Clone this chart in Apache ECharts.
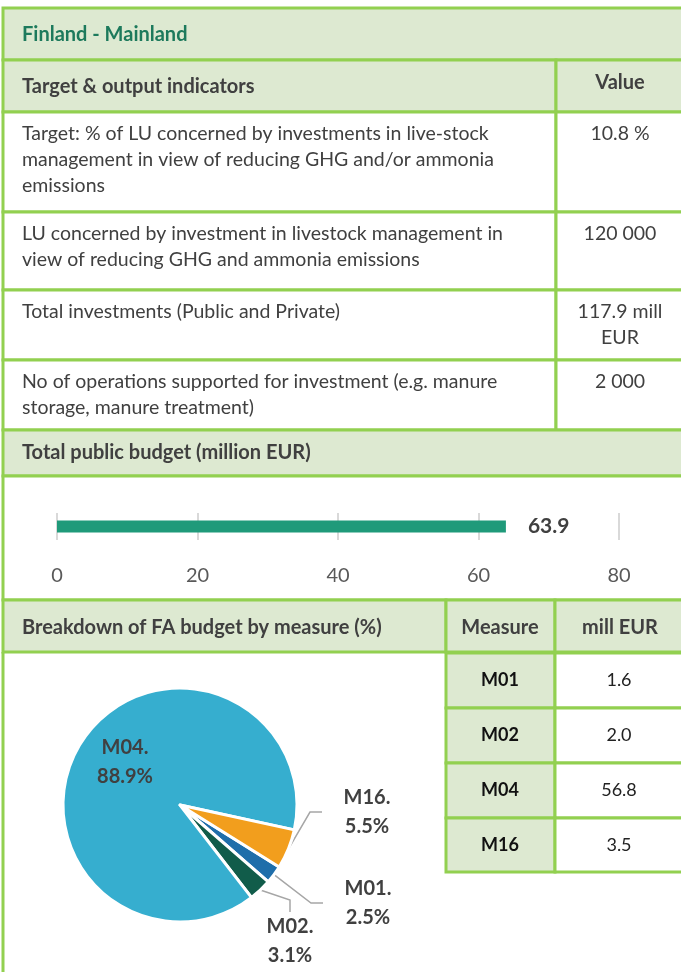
<!DOCTYPE html>
<html>
<head>
<meta charset="utf-8">
<script src="https://cdn.jsdelivr.net/npm/echarts@6/dist/echarts.min.js"></script>
<style>
  html, body { margin: 0; padding: 0; background: #fff; }
  #chart { width: 681px; height: 972px; }
</style>
</head>
<body>
<div id="chart"></div>
<script>
// data
const title = 'Finland - Mainland'
const indicatorNames = [
  'Target: % of LU concerned by investments in live-stock\nmanagement in view of reducing GHG and/or ammonia\nemissions',
  'LU concerned by investment in livestock management in\nview of reducing GHG and ammonia emissions',
  'Total investments (Public and Private)',
  'No of operations supported for investment (e.g. manure\nstorage, manure treatment)',
]
const indicatorValues = ['10.8 %', '120 000', '117.9 mill\nEUR', '2 000']
const budgetCategories = ['Total public budget']
const budgetValues = [63.9]
const budgetTicks = [0, 20, 40, 60, 80]
const measures = ['M01', 'M02', 'M04', 'M16']
const measureBudget = [1.6, 2.0, 56.8, 3.5]

const GREEN_LINE = '#92d050'
const HEAD_BG = '#dde9d1'
const TXT = '#404040'
const FONT = 'Lato, "Open Sans", sans-serif'
const BODY_FONT = '19.5px ' + FONT
const HEAD_FONT = 'bold 20px ' + FONT

const chart = echarts.init(document.getElementById('chart'))

const graphics = []
function cell(x, y, w, h, fill) {
  graphics.push({
    type: 'rect',
    z: 0,
    shape: { x: x, y: y, width: w, height: h },
    style: { fill: fill, stroke: GREEN_LINE, lineWidth: 3 },
  })
}
function text(str, x, y, opt) {
  graphics.push({
    type: 'text',
    z: 10,
    x: x,
    y: y,
    style: Object.assign({
      text: str,
      font: BODY_FONT,
      fill: TXT,
      lineHeight: 26,
      verticalAlign: 'top',
    }, opt || {}),
  })
}

// header rows
cell(3, 8, 700, 52, HEAD_BG)
text(title, 22, 22, { font: HEAD_FONT, fill: '#1d7a5c' })
cell(3, 60, 553, 52, HEAD_BG)
cell(556, 60, 150, 52, HEAD_BG)
text('Target & output indicators', 22, 74, { font: HEAD_FONT })
text('Value', 620, 70, { font: HEAD_FONT, align: 'center' })

// indicator rows
const rowTops = [112, 212, 290, 360, 430]
indicatorNames.forEach(function (name, i) {
  const y0 = rowTops[i]
  const h = rowTops[i + 1] - y0
  cell(3, y0, 553, h, '#fff')
  cell(556, y0, 150, h, '#fff')
  text(name, 22, y0 + 9)
  text(indicatorValues[i], 620, y0 + 9, { align: 'center' })
})

// budget header + bar area
cell(3, 430, 700, 46, HEAD_BG)
text('Total public budget (million EUR)', 22, 440, { font: HEAD_FONT })
cell(3, 476, 700, 124, '#fff')

// breakdown header
cell(3, 600, 443, 52, HEAD_BG)
cell(446, 600, 109, 52, HEAD_BG)
cell(555, 600, 150, 52, HEAD_BG)
text('Breakdown of FA budget by measure (%)', 22, 615, { font: HEAD_FONT })
text('Measure', 500, 615, { font: HEAD_FONT, align: 'center' })
text('mill EUR', 620, 615, { font: HEAD_FONT, align: 'center' })

// pie area: only a left border, open to the right below the table
graphics.push({
  type: 'line',
  z: 1,
  shape: { x1: 3, y1: 652, x2: 3, y2: 1000 },
  style: { stroke: GREEN_LINE, lineWidth: 3 },
})
const mRowTops = [653, 708, 763, 818, 872]
measures.forEach(function (m, i) {
  const y0 = mRowTops[i]
  const h = mRowTops[i + 1] - y0
  cell(446, y0, 109, h, HEAD_BG)
  cell(555, y0, 150, h, '#fff')
  text(m, 500, y0 + 14, { font: 'bold 18px ' + FONT, fill: '#111', align: 'center' })
  text(measureBudget[i].toFixed(1), 619, y0 + 14, { font: '18px ' + FONT, align: 'center', fill: '#222' })
})

// label spots for the pie (centre of each label)
const pieLabelPos = [[368, 903], [290, 941], [125, 762], [367, 812]]

const option = {
  animation: false,
  textStyle: { fontFamily: FONT },
  graphic: graphics,
  grid: { left: 57, right: 62, top: 513, height: 27 },
  xAxis: {
    type: 'value',
    min: budgetTicks[0],
    max: budgetTicks[budgetTicks.length - 1],
    interval: budgetTicks[1] - budgetTicks[0],
    axisLine: { show: false },
    axisTick: { show: false },
    splitLine: { lineStyle: { color: '#d9d9d9', width: 2 } },
    axisLabel: { margin: 26, fontSize: 20, color: '#595959' },
  },
  yAxis: {
    type: 'category',
    data: budgetCategories,
    show: false,
  },
  series: [
    {
      type: 'bar',
      data: budgetValues,
      barWidth: 12,
      z: 5,
      itemStyle: { color: '#1f9a7a' },
      label: {
        show: true,
        position: 'right',
        distance: 22,
        fontSize: 21,
        fontWeight: 'bold',
        color: TXT,
      },
    },
    {
      type: 'pie',
      z: 5,
      center: [180, 805],
      radius: 117,
      startAngle: -32,
      percentPrecision: 1,
      itemStyle: { borderColor: '#fff', borderWidth: 3 },
      data: measures.map(function (m, i) {
        return { name: m, value: measureBudget[i] }
      }),
      color: ['#1f6eaa', '#115c4a', '#36aecf', '#f29e1d'],
      label: {
        show: true,
        formatter: '{b}.\n{d}%',
        fontSize: 20,
        fontWeight: 'bold',
        lineHeight: 29,
        color: TXT,
        align: 'center',
        overflow: 'none',
        width: 90,
      },
      labelLine: {
        show: true,
        length: 12,
        length2: 12,
        lineStyle: { color: '#a6a6a6', width: 1.5 },
      },
      labelLayout: function (params) {
        const p = pieLabelPos[params.dataIndex]
        return { x: p[0], y: p[1], align: 'center', verticalAlign: 'middle' }
      },
    },
  ],
}
option.series[1].data[2].labelLine = { show: false }
chart.setOption(option)
</script>
</body>
</html>
